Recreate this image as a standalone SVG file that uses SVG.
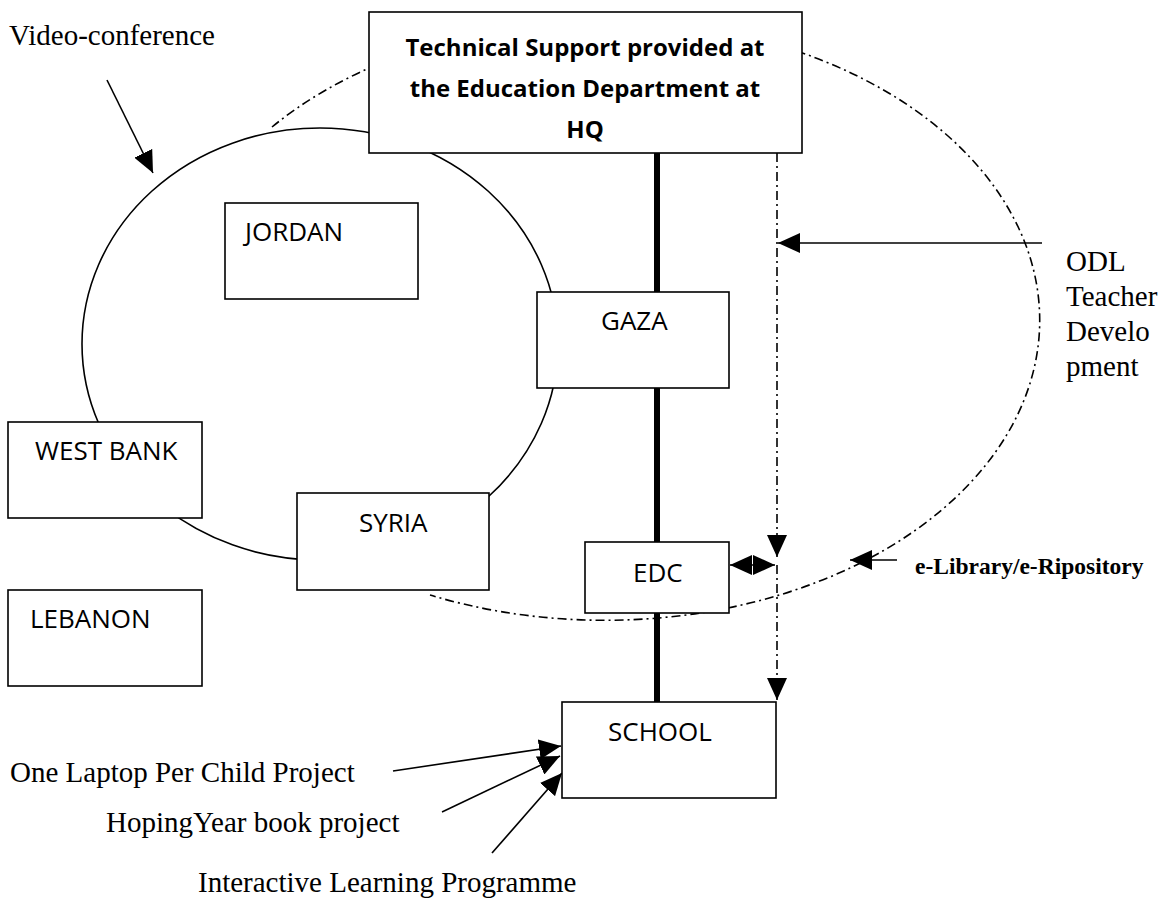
<svg xmlns="http://www.w3.org/2000/svg" width="1166" height="903" viewBox="0 0 1166 903">
<style>
.box{fill:#fff;stroke:#000;stroke-width:1.6}
.lbl{font-family:"Open Sans","Noto Sans",sans-serif;font-size:26px;fill:#000}
.ttl{font-family:"Open Sans","Noto Sans",sans-serif;font-size:24px;font-weight:bold;fill:#000}
.ser{font-family:"Liberation Serif","Times New Roman",serif;font-size:29px;fill:#000}
.serb{font-family:"Liberation Serif","Times New Roman",serif;font-size:23.5px;font-weight:bold;fill:#000}
.ln{stroke:#000;stroke-width:1.6;fill:none}
.dd{stroke:#000;stroke-width:1.6;fill:none;stroke-dasharray:9 4 2 4}
.thick{stroke:#000;stroke-width:6;fill:none}
</style>
<defs>
<marker id="ah" markerUnits="userSpaceOnUse" markerWidth="22" markerHeight="20" refX="22" refY="10" orient="auto-start-reverse">
<path d="M0,0 L22,10 L0,20 Z" fill="#000"/>
</marker>
</defs>
<rect width="1166" height="903" fill="#fff"/>
<g id="rings">
<ellipse cx="320" cy="344" rx="238" ry="216" class="ln"/>
<path d="M272,127 A435,300 0 1 1 430,595" class="dd"/>
</g>
<g id="connectors">
<line x1="657" y1="153" x2="657" y2="292" class="thick"/>
<line x1="657" y1="388" x2="657" y2="542" class="thick"/>
<line x1="657" y1="613" x2="657" y2="702" class="thick"/>
<line x1="777" y1="153" x2="777" y2="557" class="dd" marker-end="url(#ah)"/>
<line x1="777" y1="565" x2="777" y2="700" class="dd" marker-end="url(#ah)"/>
<line x1="1042" y1="243" x2="778" y2="243" class="ln" marker-end="url(#ah)"/>
<line x1="730" y1="565" x2="775" y2="565" class="ln" marker-start="url(#ah)" marker-end="url(#ah)"/>
<line x1="897" y1="560" x2="850" y2="560" class="ln" marker-end="url(#ah)"/>
<line x1="107" y1="80" x2="153" y2="173" class="ln" marker-end="url(#ah)"/>
<line x1="393" y1="771" x2="561" y2="746" class="ln" marker-end="url(#ah)"/>
<line x1="442" y1="812" x2="560" y2="756" class="ln" marker-end="url(#ah)"/>
<line x1="492" y1="853" x2="562" y2="773" class="ln" marker-end="url(#ah)"/>
</g>
<g id="hq">
<rect x="369" y="12" width="433" height="141" class="box"/>
<text class="ttl" x="585" text-anchor="middle"><tspan x="585" y="56">Technical Support provided at</tspan><tspan x="585" y="97">the Education Department at</tspan><tspan x="585" y="138">HQ</tspan></text>
</g>
<g id="jordan"><rect x="225" y="203" width="193" height="96" class="box"/><text class="lbl" x="245" y="241">JORDAN</text></g>
<g id="gaza"><rect x="537" y="292" width="192" height="96" class="box"/><text class="lbl" x="601" y="330">GAZA</text></g>
<g id="westbank"><rect x="8" y="422" width="194" height="96" class="box"/><text class="lbl" x="35" y="460">WEST BANK</text></g>
<g id="syria"><rect x="297" y="493" width="192" height="97" class="box"/><text class="lbl" x="359" y="532">SYRIA</text></g>
<g id="edc"><rect x="585" y="542" width="144" height="71" class="box"/><text class="lbl" x="633" y="582">EDC</text></g>
<g id="lebanon"><rect x="8" y="590" width="194" height="96" class="box"/><text class="lbl" x="30" y="628">LEBANON</text></g>
<g id="school"><rect x="562" y="702" width="214" height="96" class="box"/><text class="lbl" x="608" y="741">SCHOOL</text></g>
<g id="labels">
<text class="ser" x="9" y="45" font-size="30">Video-conference</text>
<text class="ser" x="1066" y="271">ODL</text>
<text class="ser" x="1066" y="306">Teacher</text>
<text class="ser" x="1066" y="341">Develo</text>
<text class="ser" x="1066" y="376">pment</text>
<text class="serb" x="915" y="574">e-Library/e-Ripository</text>
<text class="ser" x="10" y="782" font-size="28">One Laptop Per Child Project</text>
<text class="ser" x="106" y="832" font-size="28">HopingYear book project</text>
<text class="ser" x="198" y="892" font-size="28">Interactive Learning Programme</text>
</g>
</svg>
